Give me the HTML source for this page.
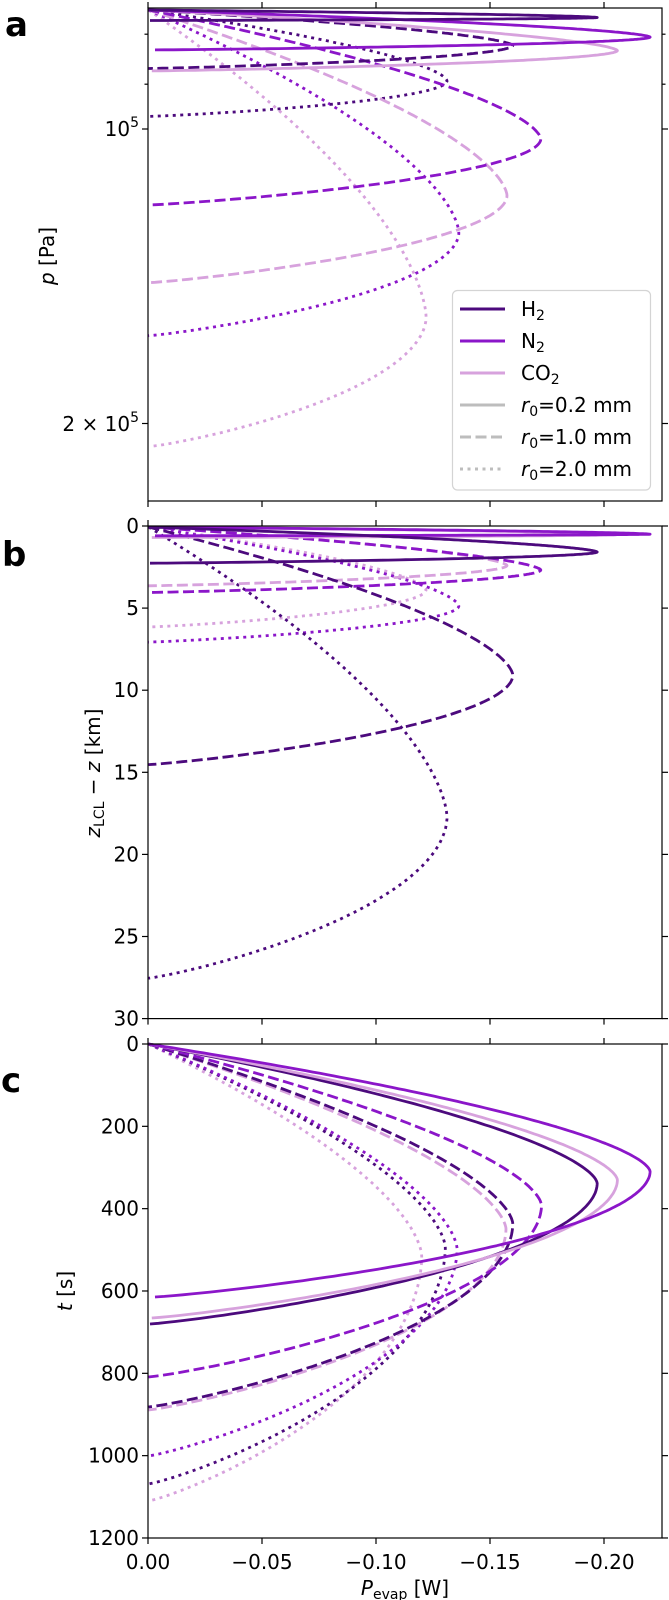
<!DOCTYPE html>
<html><head><meta charset="utf-8"><style>
html,body{margin:0;padding:0;background:#fff;}
svg{display:block;font-family:"DejaVu Sans","Liberation Sans",sans-serif;}
</style></head><body>
<svg id="s" width="669" height="1600" viewBox="0 0 669 1600" xmlns="http://www.w3.org/2000/svg">
<g id="curves" fill="none" stroke-linejoin="round"></g>
<g id="axes" stroke="#000" stroke-width="1.2" fill="none"></g>
<g id="labels" font-size="20" fill="#000"></g>
<!-- legend -->
<rect x="452.5" y="290.5" width="198" height="199.5" rx="5" fill="#fff" fill-opacity="0.85" stroke="#d4d4d4" stroke-width="1.2"/>
<g stroke-width="3" fill="none">
<line x1="460" y1="309" x2="505" y2="309" stroke="#4c0a7d"/>
<line x1="460" y1="341" x2="505" y2="341" stroke="#8b16c9"/>
<line x1="460" y1="373" x2="505" y2="373" stroke="#d7a2dd"/>
<line x1="460" y1="405" x2="505" y2="405" stroke="#bdbdbd"/>
<line x1="460" y1="437" x2="505" y2="437" stroke="#bdbdbd" stroke-dasharray="11 4.5"/>
<line x1="460" y1="469" x2="505" y2="469" stroke="#bdbdbd" stroke-dasharray="3 4.5"/>
</g>
<g font-size="20" fill="#000">
<text x="521" y="316">H<tspan font-size="14" dy="4">2</tspan></text>
<text x="521" y="348">N<tspan font-size="14" dy="4">2</tspan></text>
<text x="521" y="380">CO<tspan font-size="14" dy="4">2</tspan></text>
<text x="521" y="412"><tspan font-style="italic">r</tspan><tspan font-size="14" dy="4">0</tspan><tspan dy="-4">=0.2 mm</tspan></text>
<text x="521" y="444"><tspan font-style="italic">r</tspan><tspan font-size="14" dy="4">0</tspan><tspan dy="-4">=1.0 mm</tspan></text>
<text x="521" y="476"><tspan font-style="italic">r</tspan><tspan font-size="14" dy="4">0</tspan><tspan dy="-4">=2.0 mm</tspan></text>
</g>
<!-- panel letters -->
<g font-size="34" font-weight="bold" fill="#000">
<text x="5" y="36">a</text>
<text x="2" y="566">b</text>
<text x="1" y="1092">c</text>
</g>
<!-- y labels -->
<g font-size="20" fill="#000" text-anchor="middle">
<text transform="translate(54,256) rotate(-90)"><tspan font-style="italic">p</tspan> [Pa]</text>
<text transform="translate(100,773) rotate(-90)"><tspan font-style="italic">z</tspan><tspan font-size="14" dy="4">LCL</tspan><tspan dy="-4"> − </tspan><tspan font-style="italic">z</tspan> [km]</text>
<text transform="translate(72,1291) rotate(-90)"><tspan font-style="italic">t</tspan> [s]</text>
<text x="405" y="1595"><tspan font-style="italic">P</tspan><tspan font-size="14" dy="4">evap</tspan><tspan dy="-4"> [W]</tspan></text>
</g>
</svg>
<script>
(function(){
var NS="http://www.w3.org/2000/svg";
var H2="#4c0a7d",N2="#8b16c9",CO="#d7a2dd";
var L=148,R=662;
var panels=[[8,501],[526,1018.6],[1044,1538]];
var xt=[148,262,376,490,604];
var ax=document.getElementById('axes'),lb=document.getElementById('labels'),cv=document.getElementById('curves');
function el(tag,attrs,parent){var e=document.createElementNS(NS,tag);for(var k in attrs)e.setAttribute(k,attrs[k]);parent.appendChild(e);return e;}
panels.forEach(function(p){
 el('rect',{x:L,y:p[0],width:R-L,height:p[1]-p[0]},ax);
 xt.forEach(function(x){el('line',{x1:x,y1:p[1],x2:x,y2:p[1]+6},ax);el('line',{x1:x,y1:p[0],x2:x,y2:p[0]-6},ax);});
});
function yt(y,len,lab){el('line',{x1:L,y1:y,x2:L-len,y2:y},ax);el('line',{x1:R,y1:y,x2:R+len,y2:y},ax);
 if(lab!==undefined){var t=el('text',{x:L-9,y:y+7,'text-anchor':'end'},lb);t.textContent=lab;}}
yt(34.2,3.5);yt(84.2,3.5);
yt(129,6);yt(423.5,6);
var t1=el('text',{x:L-9,y:136,'text-anchor':'end'},lb);t1.innerHTML='10<tspan font-size="14" dy="-9">5</tspan>';
var t2=el('text',{x:L-9,y:431,'text-anchor':'end'},lb);t2.innerHTML='2 × 10<tspan font-size="14" dy="-9">5</tspan>';
for(var k=0;k<=6;k++)yt(526+k*82.1,6,String(k*5));
for(var k=0;k<=6;k++)yt(1044+k*82.33,6,String(k*200));
['0.00','−0.05','−0.10','−0.15','−0.20'].forEach(function(s,i){var t=el('text',{x:xt[i],y:1569,'text-anchor':'middle'},lb);t.textContent=s;});
function curve(c,st,y0,xp,yp,xe,ye){
 var x0=148.5,pts=[],N=100,i;
 for(i=0;i<=N;i++){var u=i/N;var U=1-Math.pow(1-u,1.6);pts.push([x0+(xp-x0)*U,y0+(yp-y0)*u]);}
 for(i=1;i<=N;i++){var w=i/N;var Lw=1-Math.pow(w,1.9);var yw=1-Math.pow(1-w,1.15);pts.push([xe+(xp-xe)*Lw,yp+(ye-yp)*yw]);}
 var d='M'+pts.map(function(q){return q[0].toFixed(1)+' '+q[1].toFixed(1);}).join(' L');
 var a={d:d,stroke:c,'stroke-width':2.8};
 if(st==='d')a['stroke-dasharray']='11 4.5';
 if(st==='o')a['stroke-dasharray']='3 4.5';
 el('path',a,cv);
}
var A=[
 [CO,'o',10,426.1,317,153.5,446],
 [N2,'o',10,458.8,232.8,148.5,335.7],
 [H2,'o',10,447,81,148.5,116.4],
 [CO,'d',10,507,195.7,148.5,282.7],
 [N2,'d',10,540.8,139,148.5,205],
 [H2,'d',10,512.8,45.5,148.5,68.5],
 [CO,'s',10,617.4,50.6,151.8,70.9],
 [N2,'s',10,650.1,37.1,155,49.9],
 [H2,'s',10,597.2,17.5,150,20.5],
 [CO,'o',527,426,590,148.5,627],
 [N2,'o',527,458.8,606,148.5,642.1],
 [H2,'o',527,447,817,148.5,978.2],
 [CO,'d',527,507,565.5,148.5,585.8],
 [N2,'d',527,540.8,570,148.5,592.5],
 [H2,'d',527,512.8,675.2,148.5,764.6],
 [CO,'s',527,617.4,534.5,151.8,537.5],
 [N2,'s',527,650.1,534.2,155,535.8],
 [H2,'s',527,597.2,552,150,563.2],
 [CO,'o',1044,421.7,1256,148.5,1501],
 [H2,'o',1044,445.3,1247.5,148.5,1484],
 [N2,'o',1044,457.1,1249,148.5,1456],
 [CO,'d',1044,506,1229,148.5,1410],
 [H2,'d',1044,512.8,1223.9,148.5,1407],
 [N2,'d',1044,541.5,1205.3,148.5,1377],
 [H2,'s',1044,597.2,1183.4,150,1324],
 [CO,'s',1044,617.4,1180,151.8,1318],
 [N2,'s',1044,650.1,1171.6,155,1297]
];
A.forEach(function(a){curve.apply(null,a);});
})();
</script>
</body></html>
